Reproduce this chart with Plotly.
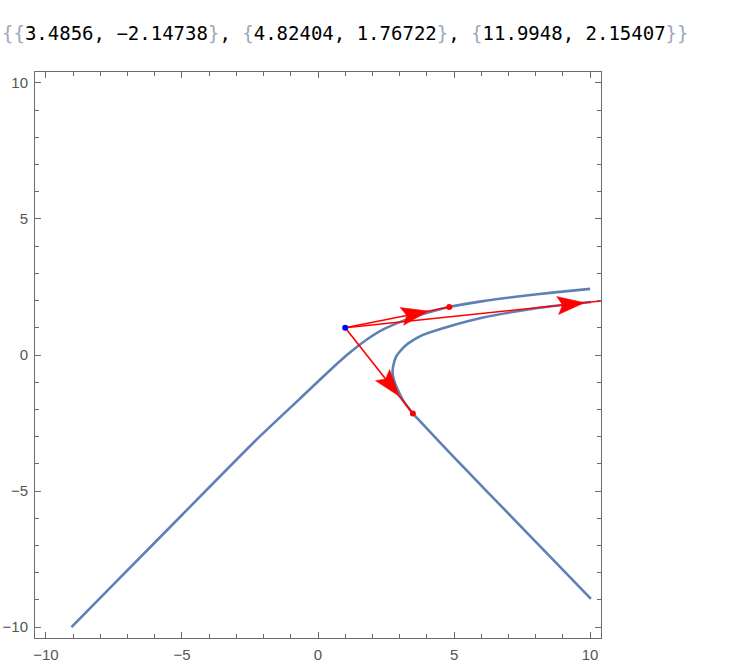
import numpy as np
import plotly.graph_objects as go

# ---- data ----
branch1_x = [-9.06, -7.08, -4.99, -2.29, -0.69, 0.54, 1.15, 1.77, 2.38, 3.24, 3.73, 4.82404, 6.0, 7.42, 8.7, 10.0]
branch1_y = [-10.0, -7.99, -5.87, -3.14, -1.63, -0.47, 0.07, 0.55, 0.93, 1.30, 1.47, 1.76722, 1.97, 2.16, 2.30, 2.43]

branch2_x = [10.03, 8.53, 6.68, 5.5, 4.6, 3.67, 3.4856, 3.13, 2.88, 2.76, 2.74, 2.77, 2.87, 3.0, 3.24, 3.5, 3.86, 4.84, 6.07, 7.91, 8.65, 10.04]
branch2_y = [-8.96, -7.41, -5.50, -4.28, -3.34, -2.35, -2.14738, -1.67, -1.17, -0.80, -0.60, -0.38, -0.06, 0.12, 0.37, 0.55, 0.74, 1.06, 1.38, 1.70, 1.80, 1.95]

source_x = [1.0]
source_y = [1.0]
target_x = [3.4856, 4.82404, 11.9948]
target_y = [-2.14738, 1.76722, 2.15407]

x_ticks = [-10, -5, 0, 5, 10]
y_ticks = [-10, -5, 0, 5, 10]

# ---- styles ----
CURVE = "#5E81B5"
RED = "#FF0000"
AXIS = "#6b6b6b"
LABEL = "#555555"

fig = go.Figure()

for bx_, by_ in ((branch1_x, branch1_y), (branch2_x, branch2_y)):
    fig.add_trace(go.Scatter(x=bx_, y=by_, mode="lines",
                             line=dict(color=CURVE, width=2.6, shape="spline", smoothing=0.6),
                             hoverinfo="skip", showlegend=False))

# arrows from source to each target
px_per_unit = 27.14
head_len = 27 / px_per_unit
head_hw = 9 / px_per_unit
head_pos = 0.80
sx, sy = source_x[0], source_y[0]
for tx, ty in zip(target_x, target_y):
    fig.add_trace(go.Scatter(x=[sx, tx], y=[sy, ty], mode="lines",
                             line=dict(color=RED, width=1.6),
                             hoverinfo="skip", showlegend=False))
    dx, dy = tx - sx, ty - sy
    L = np.hypot(dx, dy)
    ux, uy = dx / L, dy / L
    nx, ny = -uy, ux
    tipx, tipy = sx + head_pos * dx, sy + head_pos * dy
    bx, by = tipx - head_len * ux, tipy - head_len * uy
    mx, my = tipx - 0.82 * head_len * ux, tipy - 0.82 * head_len * uy
    fig.add_trace(go.Scatter(
        x=[tipx, bx + head_hw * nx, mx, bx - head_hw * nx, tipx],
        y=[tipy, by + head_hw * ny, my, by - head_hw * ny, tipy],
        mode="lines", fill="toself", fillcolor=RED,
        line=dict(color=RED, width=0.5), hoverinfo="skip", showlegend=False))

fig.add_trace(go.Scatter(x=target_x, y=target_y, mode="markers",
                         marker=dict(color=RED, size=6), hoverinfo="skip", showlegend=False))
fig.add_trace(go.Scatter(x=source_x, y=source_y, mode="markers",
                         marker=dict(color="#0000FF", size=6), hoverinfo="skip", showlegend=False))

axis_common = dict(
    showline=True, linecolor=AXIS, linewidth=1, mirror="allticks",
    ticks="inside", ticklen=6, tickcolor=AXIS, tickwidth=1,
    showgrid=False, zeroline=False, ticklabelstandoff=3, automargin=False,
    tickfont=dict(family="Liberation Sans, Arial, sans-serif", size=15, color=LABEL),
    minor=dict(ticks="inside", ticklen=4, tickcolor=AXIS, dtick=1, showgrid=False),
)
fig.update_xaxes(range=[-10.4, 10.4], tickvals=x_ticks, **axis_common)
fig.update_yaxes(range=[-10.4, 10.4], tickvals=y_ticks, **axis_common)

brace = "#9AA9BC"
def b(s):
    return f'<span style="color:{brace}">{s}</span>'
parts = []
for tx, ty in zip(target_x, target_y):
    parts.append(b("{") + f"{tx:g}, {ty:g}".replace("-", "\u2212") + b("}"))
text = b("{") + ", ".join(parts) + b("}")
fig.add_annotation(text=text, xref="paper", yref="paper",
                   x=(0 - 35) / 566, y=(638 - 33) / 566, xanchor="left", yanchor="middle",
                   showarrow=False,
                   font=dict(family="DejaVu Sans Mono, monospace", size=19, color="#000000"))

fig.update_layout(
    width=737, height=672, autosize=False,
    margin=dict(l=35, r=136, t=72, b=34, autoexpand=False),
    plot_bgcolor="white", paper_bgcolor="white",
)

fig.write_html("out.html", config={"displayModeBar": False},
               post_script="document.body.style.margin='0';document.body.style.overflow='hidden';")
